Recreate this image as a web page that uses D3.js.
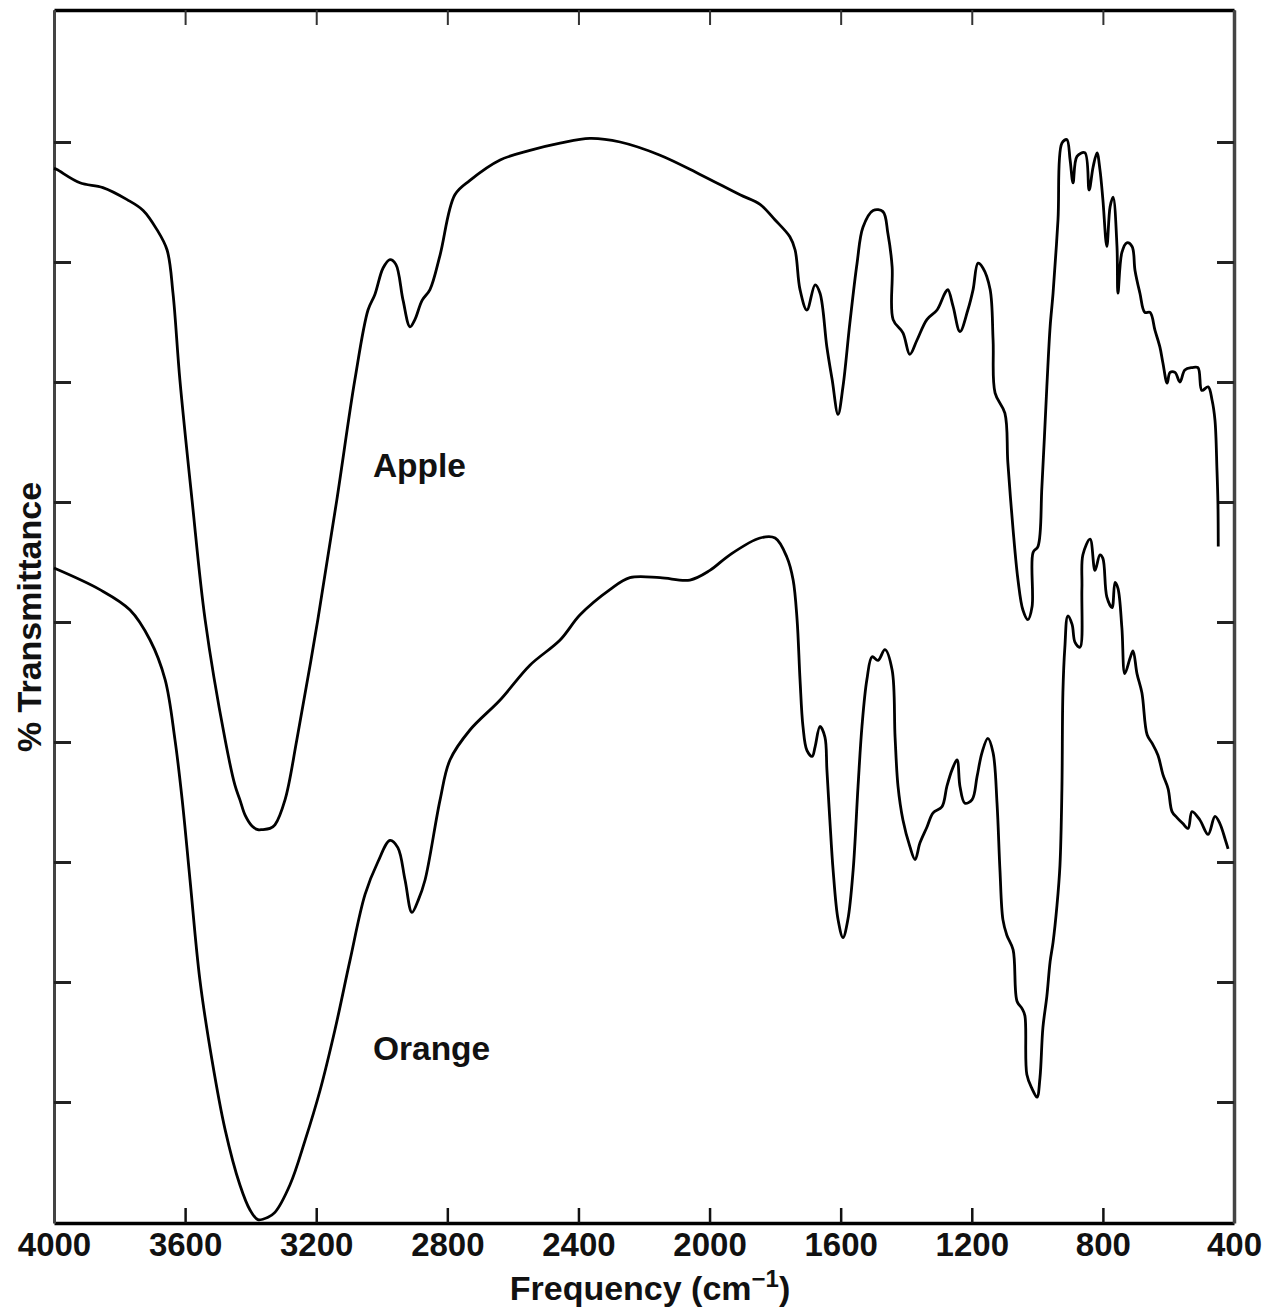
<!DOCTYPE html>
<html>
<head>
<meta charset="utf-8">
<script src="https://cdn.jsdelivr.net/npm/d3@7/dist/d3.min.js"></script>
<style>
  html, body { margin: 0; padding: 0; background: #fff; }
  svg { display: block; }
  text { font-family: "Liberation Sans", Arial, Helvetica, sans-serif; font-weight: bold; fill: #111; }
</style>
</head>
<body>
<svg id="chart" width="1266" height="1309"></svg>
<script>
// ---- Data (wavenumber cm^-1, % transmittance in arbitrary offset units) ----
const xTickValues = [4000, 3600, 3200, 2800, 2400, 2000, 1600, 1200, 800, 400];
const yTickValues = [10, 20, 30, 40, 50, 60, 70, 80, 90];
const seriesNames = ["Apple", "Orange"];

const appleFreq = [4000,3991,3921,3851,3777,3728,3686,3655,3637,3616,3579,3539,3478,3448,3433,3417,3396,3378,3365,3341,3326,3295,3259,3195,3137,3082,3042,3021,2996,2975,2957,2935,2914,2899,2877,2853,2822,2777,2731,2639,2548,2456,2365,2273,2151,2029,1907,1846,1800,1755,1739,1724,1703,1678,1663,1642,1626,1608,1593,1572,1550,1532,1501,1471,1456,1443,1440,1410,1389,1367,1337,1306,1282,1273,1257,1236,1212,1196,1181,1166,1144,1135,1129,1099,1090,1074,1059,1044,1029,1016,1013,998,986,971,961,952,937,925,910,900,891,879,855,842,830,818,809,800,788,778,769,757,754,742,727,711,702,687,672,656,641,626,617,604,595,580,565,550,528,510,498,479,467,458,452,449,448];
const appleT    = [87.8,87.7,86.6,86.2,85.2,84.3,82.7,81.0,77.4,70.2,60.2,50.2,40.2,36.4,35.2,33.9,33.0,32.7,32.7,32.8,33.1,35.2,40.2,50.2,60.2,70.2,76.0,77.3,79.5,80.2,79.8,76.8,74.6,75.2,76.8,77.7,80.6,85.6,86.8,88.5,89.3,89.9,90.3,90.0,88.9,87.3,85.6,84.8,83.5,82.1,81.0,77.7,76.0,78.1,77.4,72.9,70.2,67.3,69.6,74.9,79.9,82.9,84.3,84.2,82.4,79.6,75.2,74.1,72.3,73.5,75.2,76.0,77.4,77.7,76.3,74.2,76.0,77.7,79.9,79.5,77.7,73.5,69.1,67.4,63.3,57.7,53.5,51.0,50.2,51.3,55.8,56.3,61.3,69.6,74.6,77.4,83.5,89.9,90.2,88.5,86.6,88.8,89.1,86.0,87.9,89.1,87.7,85.2,81.3,84.6,85.4,81.3,77.4,80.8,81.6,81.3,79.3,77.4,75.8,75.8,74.3,72.9,71.6,69.9,70.8,70.8,70.0,71.0,71.2,71.2,69.3,69.6,68.5,66.8,62.7,59.9,56.3];

const orangeFreq = [4000,3860,3768,3707,3661,3631,3609,3585,3555,3518,3478,3433,3402,3378,3347,3326,3280,3234,3188,3143,3097,3051,3012,2975,2951,2929,2908,2889,2868,2822,2792,2731,2639,2548,2456,2395,2304,2243,2151,2060,1999,1938,1846,1800,1764,1745,1733,1724,1715,1703,1687,1678,1663,1648,1642,1633,1623,1608,1593,1578,1562,1547,1535,1520,1504,1486,1465,1443,1434,1425,1410,1389,1373,1358,1337,1318,1291,1276,1260,1245,1236,1221,1199,1184,1169,1151,1135,1123,1114,1105,1093,1074,1062,1047,1038,1032,1016,1001,992,983,971,961,952,940,931,925,922,916,907,894,885,870,864,861,839,824,809,800,788,772,763,754,742,733,717,708,696,681,665,650,632,617,601,589,574,556,540,528,504,479,458,443,427,418];
const orangeT    = [54.5,52.7,51.0,48.5,45.2,40.2,35.2,28.5,20.2,13.5,7.7,3.1,1.0,0.2,0.4,0.8,3.1,6.8,11.0,16.0,21.8,27.3,30.0,31.8,31.2,28.5,25.8,26.8,28.5,35.2,38.5,41.0,43.5,46.4,48.5,50.6,52.7,53.7,53.7,53.5,54.3,55.6,57.0,57.0,55.4,53.5,50.2,45.2,41.3,39.3,38.8,39.6,41.3,40.4,37.7,33.5,29.3,25.2,23.7,25.2,29.3,36.3,41.3,45.2,47.1,46.8,47.7,46.0,40.4,36.3,33.5,31.3,30.2,31.6,32.9,34.1,34.6,36.3,37.7,38.5,36.3,34.9,35.2,37.1,39.1,40.3,39.1,34.9,29.3,25.2,23.9,22.7,18.4,17.8,17.2,12.3,11.1,10.4,12.0,16.2,18.8,21.7,23.3,26.4,29.7,36.1,44.1,47.9,50.5,49.8,48.3,47.9,52.8,55.6,56.9,54.3,55.6,55.3,52.1,51.2,53.3,52.8,49.5,45.7,47.0,47.6,45.7,44.1,40.6,39.9,38.9,37.3,36.1,34.2,33.7,33.2,32.8,34.2,33.5,32.3,33.8,33.2,31.9,31.1];

// label anchor positions in data units
const labelFreq = [3027, 3027];
const labelT = [62.1, 13.5];

// ---- Chart ----
const svg = d3.select("#chart");
const mLeft = 54, mRight = 1234, mTop = 10, mBottom = 1223;

const x = d3.scaleLinear().domain([4000, 400]).range([mLeft, mRight]);
const y = d3.scaleLinear().domain([-0.083, 101.0]).range([mBottom, mTop]);

const line = d3.line()
  .x(d => x(d[0]))
  .y(d => y(d[1]))
  .curve(d3.curveCatmullRom.alpha(0.5));

const n1 = Math.min(appleFreq.length, appleT.length);
const n2 = Math.min(orangeFreq.length, orangeT.length);
const apple = appleFreq.slice(0, n1).map((f, i) => [f, appleT[i]]);
const orange = orangeFreq.slice(0, n2).map((f, i) => [f, orangeT[i]]);

// axes
const gB = svg.append("g").attr("transform", `translate(0,${mBottom})`)
  .call(d3.axisBottom(x).tickValues(xTickValues).tickFormat(d3.format("d"))
        .tickSizeInner(-15).tickSizeOuter(0).tickPadding(10));
gB.select(".domain").attr("stroke", "#000").attr("stroke-width", 3.5);
gB.selectAll(".tick line").attr("stroke", "#111").attr("stroke-width", 2.5);
gB.selectAll(".tick text").attr("font-size", 33).attr("font-weight", "bold")
  .attr("font-family", "'Liberation Sans', Arial, sans-serif").attr("fill", "#111");

const gT = svg.append("g").attr("transform", `translate(0,${mTop})`)
  .call(d3.axisTop(x).tickValues(xTickValues).tickFormat("")
        .tickSizeInner(-15).tickSizeOuter(0));
gT.select(".domain").attr("stroke", "#000").attr("stroke-width", 3.5);
gT.selectAll(".tick line").attr("stroke", "#333").attr("stroke-width", 2);

const gL = svg.append("g").attr("transform", `translate(${mLeft},0)`)
  .call(d3.axisLeft(y).tickValues(yTickValues).tickFormat("")
        .tickSizeInner(-17).tickSizeOuter(0));
gL.select(".domain").attr("stroke", "#444").attr("stroke-width", 3);
gL.selectAll(".tick line").attr("stroke", "#222").attr("stroke-width", 3);

const gR = svg.append("g").attr("transform", `translate(${mRight},0)`)
  .call(d3.axisRight(y).tickValues(yTickValues).tickFormat("")
        .tickSizeInner(-17).tickSizeOuter(0));
gR.select(".domain").attr("stroke", "#444").attr("stroke-width", 3.5);
gR.selectAll(".tick line").attr("stroke", "#222").attr("stroke-width", 3);

// curves
[apple, orange].forEach(data => {
  svg.append("path")
    .datum(data)
    .attr("fill", "none")
    .attr("stroke", "#000")
    .attr("stroke-width", 2.8)
    .attr("stroke-linejoin", "round")
    .attr("d", line);
});

// series labels
const labelSizes = [33.5, 33.5];
seriesNames.forEach((name, i) => {
  svg.append("text")
    .attr("x", x(labelFreq[i]))
    .attr("y", y(labelT[i]))
    .attr("font-size", labelSizes[i])
    .text(name);
});

// axis titles
const xt = svg.append("text")
  .attr("x", 650).attr("y", 1300)
  .attr("text-anchor", "middle")
  .attr("font-size", 34);
xt.append("tspan").text("Frequency (cm");
xt.append("tspan").attr("font-size", 24).attr("dy", -13).text("\u22121");
xt.append("tspan").attr("dy", 13).text(")");

svg.append("text")
  .attr("transform", "translate(41,617) rotate(-90)")
  .attr("text-anchor", "middle")
  .attr("font-size", 34)
  .text("% Transmittance");
</script>
</body>
</html>
